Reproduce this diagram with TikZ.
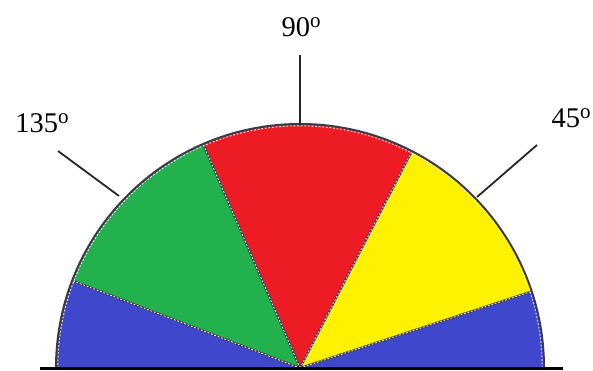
\documentclass[tikz,border=0pt]{standalone}
\usepackage{fontspec}
\setmainfont{Liberation Serif}
\definecolor{sblue}{HTML}{3F48CC}
\definecolor{sgreen}{HTML}{22B14C}
\definecolor{sred}{HTML}{ED1C24}
\definecolor{syellow}{HTML}{FFF200}
\definecolor{sedge}{HTML}{3A3A4A}
\newcommand{\degsym}{\raisebox{9.5pt}{\fontsize{21}{21}\selectfont o}}
\tikzset{
  sectorline/.style={draw=sedge, line width=2pt},
  sectordash/.style={draw=white!85!gray, line width=0.9pt, dash pattern=on 1.8pt off 1.8pt},
  tickline/.style={draw=black!85, line width=1.8pt},
  anglelabel/.style={font=\fontsize{28.5}{30}\selectfont, inner sep=0pt}
}
\begin{document}
\begin{tikzpicture}[x=1pt,y=1pt]
\useasboundingbox (0,0) rectangle (593,370);
\coordinate (C) at (300,2);
\def\R{244}
% sectors
\fill[sblue]   (C) -- ++(0:\R) arc (0:18.3:\R) -- cycle;
\fill[syellow] (C) -- ++(18.3:\R) arc (18.3:62.7:\R) -- cycle;
\fill[sred]    (C) -- ++(62.7:\R) arc (62.7:113.4:\R) -- cycle;
\fill[sgreen]  (C) -- ++(113.4:\R) arc (113.4:159:\R) -- cycle;
\fill[sblue]   (C) -- ++(159:\R) arc (159:180:\R) -- cycle;
% sector boundaries
\foreach \a in {18.3,62.7,113.4,159}{
  \draw[sectorline] (C) -- ++(\a:\R);
  \draw[sectordash] (C) -- ++(\a:\R);
}
% outer arc
\draw[sectorline] (C) ++(0:\R) arc (0:180:\R);
\draw[sectordash] (C) ++(0:\R-1.8) arc (0:180:\R-1.8);
% baseline
\coordinate (bl) at (40,1.5);
\coordinate (br) at (563,1.5);
\draw[line width=3pt] (bl) -- (br);
% ticks
\coordinate (t90a) at (300,245);
\coordinate (t90b) at (300,315);
\coordinate (t45a) at (477,173);
\coordinate (t45b) at (537,225);
\coordinate (t135a) at (119,174);
\coordinate (t135b) at (58,219);
\draw[tickline] (t90a) -- (t90b);
\draw[tickline] (t45a) -- (t45b);
\draw[tickline] (t135a) -- (t135b);
% labels
\node[anglelabel] (l90) at (301,343) {90\degsym};
\node[anglelabel] (l45) at (571,252) {45\degsym};
\node[anglelabel] (l135) at (42,247) {135\degsym};
\end{tikzpicture}
\end{document}
